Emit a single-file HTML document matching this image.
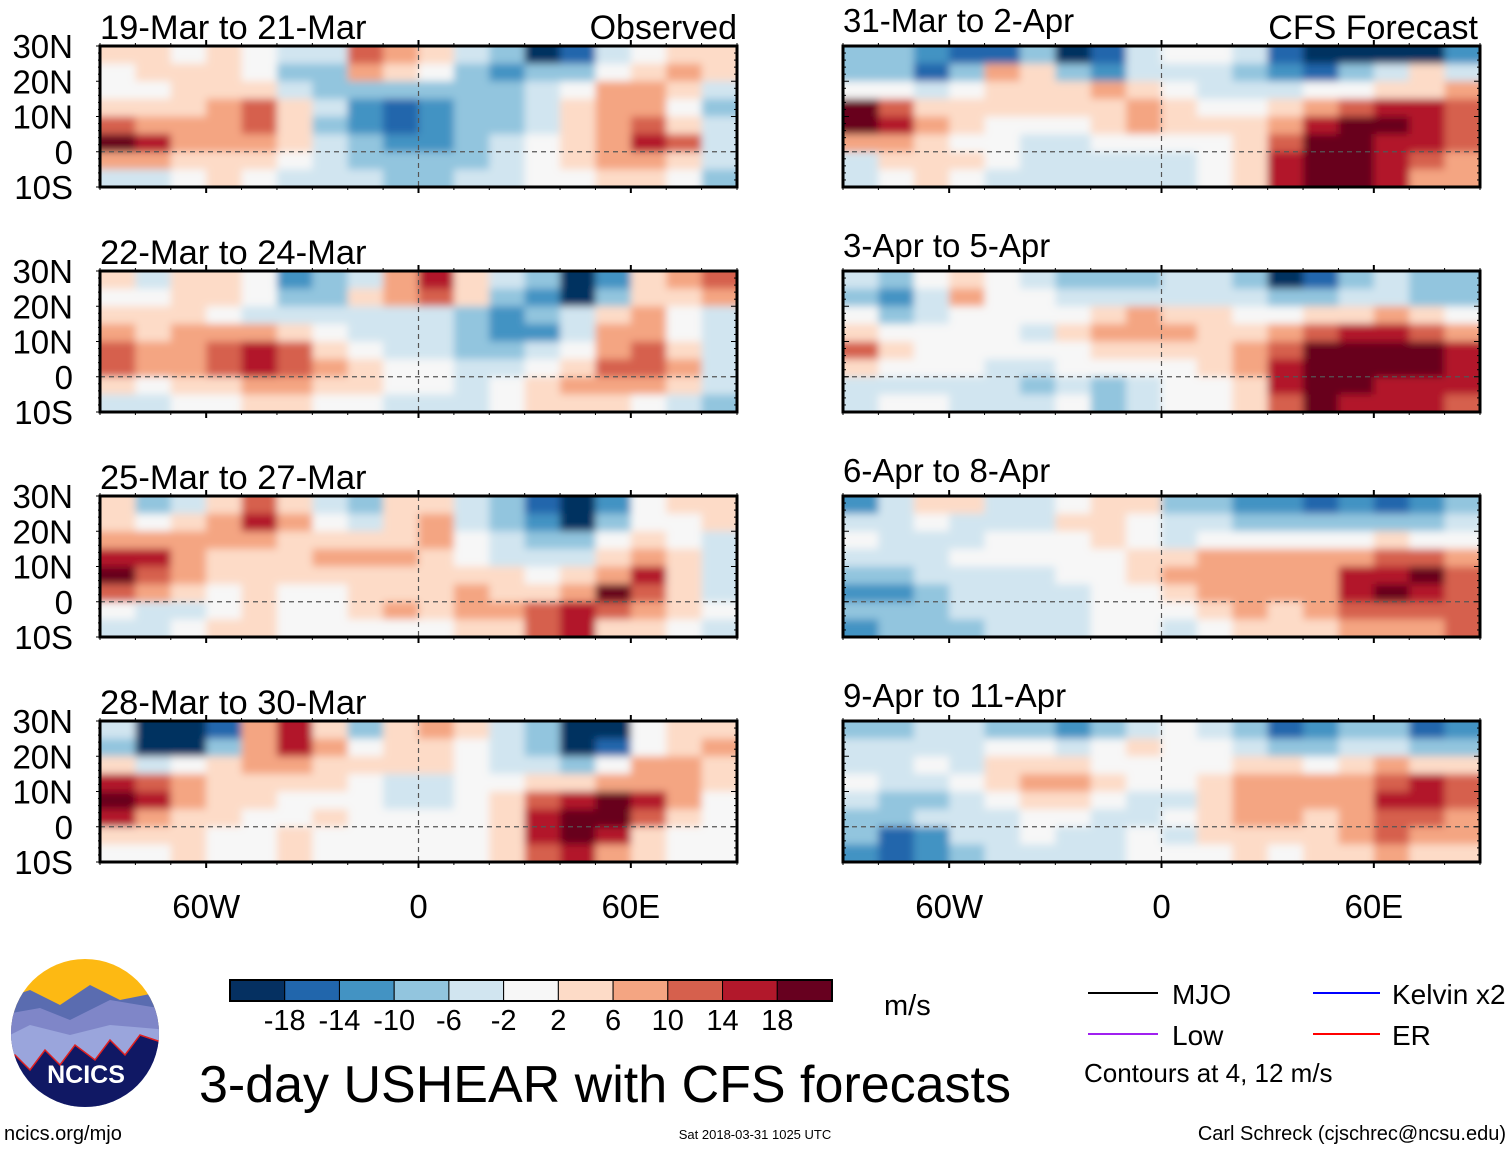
<!DOCTYPE html>
<html><head><meta charset="utf-8"><style>
html,body{margin:0;padding:0;background:#fff;}
svg{display:block;font-family:"Liberation Sans",Arial,sans-serif;}
</style></head><body>
<svg id="chart" width="1510" height="1149" viewBox="0 0 1510 1149" xmlns="http://www.w3.org/2000/svg">
<defs>
<filter id="blur" x="-5%" y="-10%" width="110%" height="120%"><feGaussianBlur stdDeviation="4"/></filter>
</defs>
<g id="panels"></g>
<g id="legend"></g>
</svg>
<script>
// ---- data ----
const lonCenters=[-85,-75,-65,-55,-45,-35,-25,-15,-5,5,15,25,35,45,55,65,75,85];
const latCenters=[27.5,22.5,17.5,12.5,7.5,2.5,-2.5,-7.5];
const latTicks=[30,20,10,0,-10];
const latTickLabels=["30N","20N","10N","0","10S"];
const lonTicks=[-60,0,60];
const lonTickLabels=["60W","0","60E"];
const levels=[-18,-14,-10,-6,-2,2,6,10,14,18];
const levelLabels=["-18","-14","-10","-6","-2","2","6","10","14","18"];
const palette=["#053061","#2166ac","#4393c3","#92c5de","#d1e5f0","#f7f7f7","#fddbc7","#f4a582","#d6604d","#b2182b","#67001f"];
const panelTitles=["19-Mar to 21-Mar","22-Mar to 24-Mar","25-Mar to 27-Mar","28-Mar to 30-Mar","31-Mar to 2-Apr","3-Apr to 5-Apr","6-Apr to 8-Apr","9-Apr to 11-Apr"];
const shear1=[
[4,4,0,4,0,-4,-4,12,8,4,-4,-8,-20,-16,-4,0,4,4],
[0,4,4,4,0,-8,-8,8,4,0,-8,-12,-8,-8,0,4,8,4],
[0,0,4,4,4,-4,-8,-8,-8,-8,-8,-8,-4,0,8,8,4,-4],
[4,4,4,8,12,4,-4,-12,-16,-12,-8,-8,-4,4,8,8,0,-8],
[12,8,8,8,12,4,-8,-12,-16,-12,-8,-8,-4,4,8,12,4,-4],
[20,16,8,8,8,4,-4,-8,-12,-12,-8,-4,0,4,8,14,12,-4],
[8,8,4,4,4,0,-4,-8,-8,-8,-8,-4,0,4,8,8,4,-4],
[-4,-4,0,4,0,-4,-4,-4,-8,-8,-4,-4,0,0,4,4,0,-8]];
const shear2=[
[4,-4,4,4,0,-12,-8,-4,8,16,4,-4,-8,-20,-12,4,8,12],
[0,0,4,4,0,-8,-8,4,8,12,4,-8,-12,-20,-8,4,4,8],
[4,4,4,0,-4,-4,-4,-4,-4,-4,-8,-12,-8,-4,4,8,0,-4],
[8,4,8,8,8,4,0,-4,-4,-4,-8,-12,-12,-4,8,8,0,-4],
[12,8,8,12,16,12,4,0,-4,-4,-8,-8,-4,0,8,12,4,-4],
[12,8,8,12,16,12,8,4,0,0,-4,-4,0,4,12,12,8,-4],
[4,0,4,4,8,8,4,4,0,0,-4,0,4,8,8,8,4,-4],
[-4,-4,0,0,4,4,0,0,-4,-4,-4,0,4,4,4,0,-4,-8]];
const shear3=[
[4,-8,-4,4,12,4,-4,-8,4,4,-4,-8,-16,-20,-12,0,4,4],
[4,0,4,8,16,8,0,-4,4,8,-4,-8,-12,-20,-8,0,0,4],
[8,8,8,8,8,4,4,4,4,8,0,-4,-8,-8,0,4,0,-4],
[16,16,8,4,4,4,8,8,8,4,0,-4,-4,-4,4,8,4,-4],
[20,12,8,4,4,4,4,4,4,4,4,4,0,4,8,14,4,-4],
[12,8,4,0,4,0,0,4,4,4,8,4,4,8,20,12,4,-4],
[0,-4,-4,0,4,0,0,4,8,4,8,8,12,16,12,8,4,0],
[-4,-4,0,4,4,0,0,0,0,0,4,4,12,16,4,4,0,-4]];
const shear4=[
[-4,-20,-20,-16,8,16,4,-8,4,8,4,-4,-8,-20,-20,0,4,4],
[-8,-20,-20,-8,8,16,8,0,4,4,0,-4,-8,-20,-16,0,4,8],
[4,-4,0,4,8,8,4,4,4,4,0,-4,-4,-8,0,8,8,4],
[16,12,8,4,4,4,4,0,-4,-4,0,0,4,4,8,8,8,4],
[20,16,8,4,4,0,0,0,-4,-4,0,4,12,16,20,16,8,0],
[16,8,4,4,0,0,4,0,0,0,0,4,14,20,20,12,4,0],
[4,4,4,0,0,4,0,0,0,0,0,4,16,20,16,4,0,0],
[0,0,4,0,0,4,0,0,0,0,0,4,12,16,8,4,0,0]];
const shear5=[
[-8,-8,-12,-16,-16,-8,-20,-16,-4,0,0,-4,-16,-20,-20,-20,-20,-12],
[-8,-8,-16,-8,8,4,-8,-12,-4,-4,-4,-8,-12,-16,-8,-4,4,-4],
[0,0,-4,0,4,4,4,8,4,0,-4,-4,-4,0,0,4,4,8],
[20,12,4,4,4,4,4,4,8,4,0,0,4,8,12,16,16,12],
[20,16,8,4,0,0,0,4,8,4,4,4,8,16,20,20,16,12],
[8,8,4,0,0,-4,-4,0,0,0,0,4,12,20,20,16,16,12],
[-4,4,4,4,0,-4,-4,-4,-4,-4,0,4,16,20,20,16,12,8],
[-4,0,4,0,-4,-4,-4,-4,-4,-4,0,4,16,20,20,16,8,8]];
const shear6=[
[-4,-8,0,4,0,-4,-8,-8,-8,-4,-4,-8,-20,-16,-8,-4,-8,-8],
[-8,-12,-4,8,0,0,-4,-4,-4,-4,-4,-4,-8,-8,-4,-4,-8,-8],
[0,-8,-4,0,0,0,0,4,8,4,4,0,0,4,4,8,4,0],
[4,0,0,0,0,-4,4,8,8,8,4,4,8,12,16,16,12,8],
[12,4,0,0,0,0,0,4,4,4,4,8,12,20,20,20,20,16],
[4,0,0,0,-4,-4,0,0,0,0,4,8,16,20,20,20,20,16],
[-4,-4,-4,-4,-4,-8,-4,-8,-4,0,0,4,16,20,20,16,16,16],
[-4,0,0,-4,-4,-4,0,-8,-4,0,0,4,12,20,16,16,16,12]];
const shear7=[
[-12,-4,4,4,-4,-4,0,4,4,-8,-8,-12,-12,-16,-12,-16,-12,-8],
[-4,-4,0,-4,-4,-4,4,4,0,-4,-4,-8,-8,-8,-8,-8,-8,-4],
[0,-4,-4,-4,0,0,0,4,0,-4,0,0,0,0,0,4,0,0],
[-4,-4,-4,0,0,0,0,0,4,4,8,8,8,8,8,12,12,8],
[-8,-8,-4,-4,-4,-4,0,0,4,8,8,8,8,8,16,16,20,12],
[-12,-12,-8,-4,-4,-4,-4,0,0,4,8,8,8,8,16,20,16,12],
[-8,-8,-8,-4,-4,-4,-4,0,0,0,4,8,4,8,12,12,12,12],
[-12,-8,-8,-8,-4,-4,-4,0,0,-4,0,4,4,4,8,8,8,12]];
const shear8=[
[-8,-8,-4,-4,-8,-8,-12,-8,-4,0,-4,-8,-16,-12,-8,-8,-16,-12],
[-4,-4,-4,-4,0,0,-4,0,4,0,0,-4,-8,-8,-4,-4,-8,-8],
[-4,-4,0,-4,4,4,4,0,0,0,0,4,4,0,4,8,4,4],
[0,-4,-4,0,4,8,8,4,0,0,4,8,8,8,8,12,16,12],
[-4,-8,-8,-4,0,4,4,0,-4,-4,4,8,8,8,8,16,16,12],
[-8,-8,-4,-4,-4,0,0,-4,-4,0,4,8,8,4,8,12,12,8],
[-8,-16,-12,-4,-4,0,-4,-4,0,-4,4,4,4,4,8,12,8,8],
[-12,-16,-12,-8,-4,-4,-4,-4,0,0,0,4,0,4,4,8,4,4]];
const allShear=[shear1,shear2,shear3,shear4,shear5,shear6,shear7,shear8];

// ---- layout ----
const NS="http://www.w3.org/2000/svg";
const panelLefts=[100,843];
const panelTops=[46,271,496,721];
const PW=637, PH=141;
function mk(tag,attrs,parent){const e=document.createElementNS(NS,tag);for(const k in attrs)e.setAttribute(k,attrs[k]);if(parent)parent.appendChild(e);return e;}
function colorFor(v){let i=0;while(i<levels.length&&v>=levels[i])i++;return palette[i];}
const root=document.getElementById('panels');

for(let p=0;p<8;p++){
  const col=p<4?0:1, row=p%4;
  const x0=panelLefts[col], y0=panelTops[row];
  const xs=lon=>x0+(lon+90)/180*PW;
  const ys=lat=>y0+(30-lat)/40*PH;
  const g=mk('g',{},root);
  
  
  const cp=mk('clipPath',{id:'cp'+p},g);
  mk('rect',{x:x0,y:y0,width:PW,height:PH},cp);
  const field=mk('g',{'clip-path':'url(#cp'+p+')'},g);
  
  
  mk('rect',{x:x0,y:y0,width:PW,height:PH,fill:'#f7f7f7'},field);
  const blurG=mk('g',{filter:'url(#blur)'},field);
  const data=allShear[p];
  for(let r=0;r<latCenters.length;r++){
    for(let c=0;c<lonCenters.length;c++){
      const lx=xs(lonCenters[c]-5), rx=xs(lonCenters[c]+5);
      const ty=ys(latCenters[r]+2.5), by=ys(latCenters[r]-2.5);
      const pad=(r===0||r===7||c===0||c===17)?12:0;
      const cell=mk('rect',{x:lx-(c===0?pad:0),y:ty-(r===0?pad:0),width:rx-lx+(c===0||c===17?pad:0)+0.6,height:by-ty+(r===0||r===7?pad:0)+0.6,fill:colorFor(data[r][c])},blurG);
      
      
    }
  }
  const eq=mk('line',{x1:x0,y1:ys(0),x2:x0+PW,y2:ys(0),stroke:'#555','stroke-width':1.2,'stroke-dasharray':'5,4'},field);
  
  
  const pm=mk('line',{x1:xs(0),y1:y0,x2:xs(0),y2:y0+PH,stroke:'#555','stroke-width':1.2,'stroke-dasharray':'5,4'},field);
  
  
  const fr=mk('rect',{x:x0,y:y0,width:PW,height:PH,fill:'none',stroke:'#000','stroke-width':3},g);
  
  
  for(let lon=-90;lon<=90;lon+=10){
    const major=lonTicks.includes(lon);
    const L=major?6:3;
    mk('line',{x1:xs(lon),y1:y0,x2:xs(lon),y2:y0-L,stroke:'#000','stroke-width':major?2:1},g);
    mk('line',{x1:xs(lon),y1:y0+PH,x2:xs(lon),y2:y0+PH+L,stroke:'#000','stroke-width':major?2:1},g);
  }
  for(let lat=-10;lat<=30;lat+=2){
    const major=lat%10===0;
    const L=major?6:3;
    mk('line',{x1:x0+PW,y1:ys(lat),x2:x0+PW-L,y2:ys(lat),stroke:'#000','stroke-width':1},g);
    if(col===0){mk('line',{x1:x0,y1:ys(lat),x2:x0-(major?4:2),y2:ys(lat),stroke:'#000','stroke-width':1},g);}
    else{mk('line',{x1:x0,y1:ys(lat),x2:x0+L,y2:ys(lat),stroke:'#000','stroke-width':1},g);}
  }
  const t=mk('text',{x:x0,y:col===0?y0-7:y0-14,'font-size':col===0?34.5:33,fill:'#000'},g);
  t.textContent=panelTitles[p];
  
  
  if(p===0){const o=mk('text',{x:x0+PW,y:y0-7,'font-size':34,'text-anchor':'end'},g);o.textContent='Observed';}
  if(p===4){const o=mk('text',{x:x0+PW-2,y:y0-7,'font-size':34,'text-anchor':'end'},g);o.textContent='CFS Forecast';}
  if(col===0){
    for(let i=0;i<latTicks.length;i++){
      const lt=mk('text',{x:73,y:ys(latTicks[i])+12,'font-size':33,'text-anchor':'end'},g);
      lt.textContent=latTickLabels[i];
      
      
    }
  }
  if(row===3){
    for(let i=0;i<lonTicks.length;i++){
      const lt=mk('text',{x:xs(lonTicks[i]),y:918,'font-size':33,'text-anchor':'middle'},g);
      lt.textContent=lonTickLabels[i];
      
      
    }
  }
}

// ---- colorbar ----
const lg=document.getElementById('legend');
const cbX=230, cbW=602, cbY=980, cbH=21, bw=cbW/palette.length;
for(let i=0;i<palette.length;i++){
  const b=mk('rect',{x:cbX+i*bw,y:cbY,width:bw,height:cbH,fill:palette[i],stroke:'#000','stroke-width':1},lg);
  
  
}
mk('rect',{x:cbX,y:cbY,width:cbW,height:cbH,fill:'none',stroke:'#000','stroke-width':2},lg);
for(let i=0;i<levels.length;i++){
  const t=mk('text',{x:cbX+(i+1)*bw,y:1030,'font-size':29,'text-anchor':'middle'},lg);
  t.textContent=levelLabels[i];
  
  
}
</script>
<script>
const lg2=document.getElementById('legend');
lg2.insertAdjacentHTML('beforeend',`
<text x="884" y="1015" font-size="29">m/s</text>
<line x1="1088" y1="993" x2="1158" y2="993" stroke="#000" stroke-width="2"/>
<text x="1172" y="1004" font-size="28">MJO</text>
<line x1="1313" y1="993" x2="1380" y2="993" stroke="#0000ff" stroke-width="2"/>
<text x="1392" y="1004" font-size="28">Kelvin x2</text>
<line x1="1088" y1="1034" x2="1158" y2="1034" stroke="#a020f0" stroke-width="2"/>
<text x="1172" y="1045" font-size="28">Low</text>
<line x1="1313" y1="1034" x2="1380" y2="1034" stroke="#ff0000" stroke-width="2"/>
<text x="1392" y="1045" font-size="28">ER</text>
<text x="1084" y="1082" font-size="26">Contours at 4, 12 m/s</text>
<text x="605" y="1102" font-size="52" text-anchor="middle">3-day USHEAR with CFS forecasts</text>
<text x="4" y="1140" font-size="20">ncics.org/mjo</text>
<text x="755" y="1139" font-size="13" text-anchor="middle">Sat 2018-03-31 1025 UTC</text>
<text x="1506" y="1140" font-size="20" text-anchor="end">Carl Schreck (cjschrec@ncsu.edu)</text>
<g>
<clipPath id="logoclip"><circle cx="85" cy="1033" r="74"/></clipPath>
<g clip-path="url(#logoclip)">
<rect x="0" y="955" width="170" height="160" fill="#fdb913"/>
<path d="M0 1000 L30 990 L60 1005 L90 985 L120 1000 L170 990 L170 1120 L0 1120Z" fill="#5a6cb0"/>
<path d="M0 1015 L40 1008 L70 1020 L110 1000 L170 1010 L170 1120 L0 1120Z" fill="#7f86c8"/>
<path d="M0 1040 L30 1025 L70 1035 L110 1025 L170 1030 L170 1120 L0 1120Z" fill="#9aa5dc"/>
<path d="M0 1070 L15 1055 L30 1070 L45 1050 L60 1065 L75 1045 L95 1060 L110 1040 L125 1055 L140 1035 L170 1045 L170 1120 L0 1120Z" fill="#101864" stroke="#e02020" stroke-width="1.5"/>
</g>
<text x="86" y="1083" font-size="25" font-weight="bold" fill="#fff" text-anchor="middle">NCICS</text>
</g>`);
</script>
</body></html>
